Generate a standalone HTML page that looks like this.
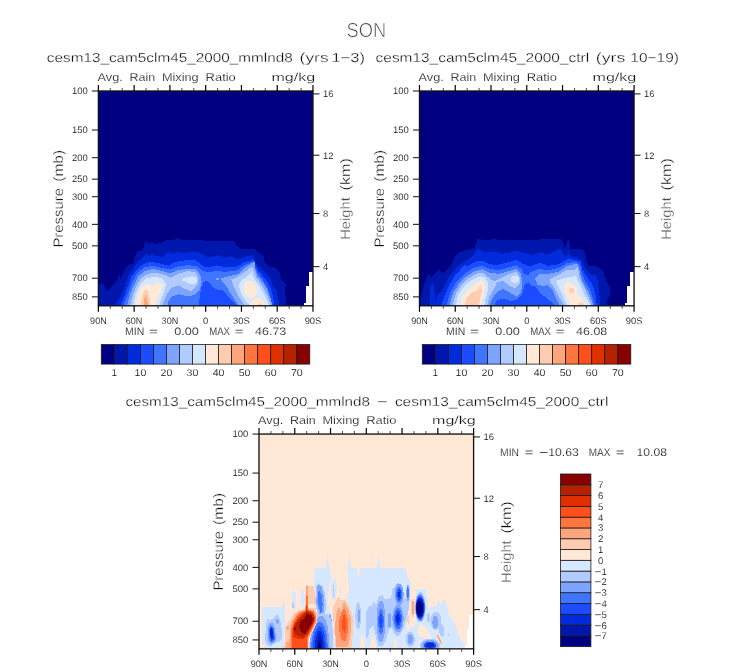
<!DOCTYPE html>
<html><head><meta charset="utf-8"><title>SON</title>
<style>html,body{margin:0;padding:0;background:#fff;}svg{display:block;will-change:transform;}text{font-family:"Liberation Sans",sans-serif;}</style></head>
<body>
<svg width="733" height="672" viewBox="0 0 733 672" font-family="'Liberation Sans', sans-serif" text-rendering="geometricPrecision">
<defs>
<clipPath id="clip98_91"><rect x="98.37" y="91.0" width="214.6" height="214.8"/></clipPath>
<clipPath id="clip419_91"><rect x="419.47" y="91.0" width="214.6" height="214.8"/></clipPath>
<clipPath id="clip259_434"><rect x="259.0" y="434.05" width="214.6" height="214.8"/></clipPath>
</defs>
<rect width="733" height="672" fill="#fff"/>
<text x="346.6" y="36.7" font-size="20.4" text-anchor="start" fill="#4a4a4a" stroke="#fff" stroke-width="0.55" textLength="39.6" lengthAdjust="spacingAndGlyphs">SON</text>
<text x="46.8" y="62.2" font-size="13.0" text-anchor="start" fill="#0a0a0a" stroke="#fff" stroke-width="0.27" textLength="246.0" lengthAdjust="spacingAndGlyphs">cesm13_cam5clm45_2000_mmlnd8</text>
<text x="299.6" y="62.2" font-size="13.0" text-anchor="start" fill="#0a0a0a" stroke="#fff" stroke-width="0.27" textLength="29.0" lengthAdjust="spacingAndGlyphs">(yrs</text>
<text x="331.4" y="62.2" font-size="13.0" text-anchor="start" fill="#0a0a0a" stroke="#fff" stroke-width="0.27" textLength="33.5" lengthAdjust="spacingAndGlyphs">1−3)</text>
<text x="375.6" y="62.2" font-size="13.0" text-anchor="start" fill="#0a0a0a" stroke="#fff" stroke-width="0.27" textLength="213.5" lengthAdjust="spacingAndGlyphs">cesm13_cam5clm45_2000_ctrl</text>
<text x="595.8" y="62.2" font-size="13.0" text-anchor="start" fill="#0a0a0a" stroke="#fff" stroke-width="0.27" textLength="29.5" lengthAdjust="spacingAndGlyphs">(yrs</text>
<text x="630.3" y="62.2" font-size="13.0" text-anchor="start" fill="#0a0a0a" stroke="#fff" stroke-width="0.27" textLength="48.6" lengthAdjust="spacingAndGlyphs">10−19)</text>
<text x="125.4" y="405.6" font-size="13.0" text-anchor="start" fill="#0a0a0a" stroke="#fff" stroke-width="0.27" textLength="244.6" lengthAdjust="spacingAndGlyphs">cesm13_cam5clm45_2000_mmlnd8</text>
<text x="376.9" y="405.6" font-size="13.0" text-anchor="start" fill="#0a0a0a" stroke="#fff" stroke-width="0.27" textLength="10.8" lengthAdjust="spacingAndGlyphs">−</text>
<text x="394.9" y="405.6" font-size="13.0" text-anchor="start" fill="#0a0a0a" stroke="#fff" stroke-width="0.27" textLength="213.5" lengthAdjust="spacingAndGlyphs">cesm13_cam5clm45_2000_ctrl</text>
<g clip-path="url(#clip98_91)" shape-rendering="crispEdges">
<rect x="98.37" y="91.0" width="214.6" height="214.8" fill="#000080"/>
<path d="M98.0,307.0 L98.0,284.5 L100.5,283.5 L103.0,283.0 L105.0,287.0 L107.0,291.0 L110.0,288.0 L113.0,285.3 L117.5,280.0 L119.0,274.0 L120.5,277.8 L124.3,271.0 L128.0,265.0 L133.3,263.5 L135.5,256.0 L137.8,251.5 L143.0,250.0 L145.3,241.0 L148.3,244.0 L152.0,242.2 L155.0,244.0 L162.5,242.5 L167.0,239.8 L173.0,240.3 L177.6,238.3 L183.6,240.3 L195.6,239.5 L208.0,241.0 L218.0,240.5 L233.0,240.5 L236.8,245.5 L240.5,249.3 L248.0,248.5 L254.8,249.3 L260.0,253.8 L263.8,256.0 L264.5,262.0 L268.3,266.2 L275.0,267.3 L279.6,272.5 L281.0,280.0 L285.6,284.5 L285.3,293.6 L286.3,305.0 L286.3,307.0 Z" fill="#0017AE"/>
<path d="M115.3,307.0 L115.3,305.0 L120.5,296.6 L125.0,286.0 L128.0,277.0 L134.0,266.5 L137.8,262.0 L143.0,257.5 L146.0,253.8 L149.8,256.0 L152.0,253.8 L155.0,256.0 L162.5,256.8 L167.8,251.8 L173.0,253.8 L177.6,251.5 L182.0,253.0 L195.6,251.5 L203.0,254.5 L206.0,256.5 L210.5,257.5 L218.0,255.3 L225.5,257.5 L230.0,256.0 L237.5,259.0 L245.0,256.8 L252.5,255.3 L254.8,258.3 L256.3,263.5 L260.8,268.0 L266.0,274.0 L270.5,278.5 L272.8,286.0 L276.5,290.5 L278.0,298.0 L279.6,305.0 L279.6,307.0 Z" fill="#002BDC"/>
<path d="M120.5,307.0 L120.5,305.0 L124.3,296.6 L128.0,286.0 L131.8,275.5 L137.0,269.5 L143.0,264.3 L149.0,262.0 L158.0,262.8 L168.6,265.8 L174.6,262.0 L183.6,260.5 L195.6,260.2 L203.0,265.8 L206.0,267.3 L209.0,267.3 L216.5,265.3 L225.5,267.3 L237.5,266.5 L245.0,262.0 L253.3,259.8 L255.5,265.0 L258.5,271.0 L264.5,277.8 L269.0,284.5 L272.0,292.0 L273.5,299.6 L274.3,305.0 L274.3,307.0 Z" fill="#1C4CFF"/>
<path d="M123.5,307.0 L123.5,305.0 L128.0,293.6 L132.5,281.5 L137.0,273.3 L144.5,267.3 L153.5,265.8 L162.5,268.0 L170.0,269.5 L177.6,266.5 L188.0,265.0 L197.0,266.5 L203.0,271.0 L209.0,272.5 L215.0,271.0 L225.5,271.8 L237.5,270.3 L245.0,265.0 L252.5,262.0 L254.8,266.5 L257.8,273.3 L263.0,280.0 L267.5,287.5 L269.8,295.0 L271.3,305.0 L271.3,307.0 Z" fill="#3F75FF"/>
<path d="M199.1,307.0 L199.1,305.0 L199.6,297.5 L201.3,287.7 L203.5,282.2 L206.7,280.9 L210.0,283.3 L213.3,287.7 L217.7,289.8 L222.0,289.8 L226.4,294.2 L230.8,299.7 L235.1,304.0 L236.8,305.0 L236.8,307.0 Z" fill="#1C4CFF"/>
<path d="M127.3,307.0 L127.3,305.0 L130.3,293.6 L134.0,284.5 L138.5,276.3 L144.5,271.0 L153.5,268.8 L162.5,271.0 L170.0,273.3 L177.6,270.3 L188.0,268.5 L195.6,269.5 L200.0,274.0 L201.6,281.5 L200.0,289.0 L194.0,295.0 L188.0,296.6 L179.0,294.3 L171.6,296.6 L168.5,301.0 L167.8,305.0 L167.8,307.0 Z" fill="#7DA5FF"/>
<path d="M130.3,307.0 L130.3,305.0 L133.3,293.6 L137.0,284.5 L141.5,277.8 L147.5,274.0 L155.0,272.5 L164.0,274.8 L170.8,277.8 L177.6,274.0 L188.0,271.0 L195.6,272.5 L198.6,278.5 L197.0,286.0 L191.0,291.3 L183.6,288.3 L179.0,285.3 L171.6,287.5 L167.0,293.6 L164.0,301.0 L162.5,305.0 L162.5,307.0 Z" fill="#B1CBFF"/>
<path d="M133.3,307.0 L133.3,305.0 L135.5,293.6 L140.0,284.5 L146.0,278.5 L155.0,276.8 L162.5,278.5 L166.3,284.5 L164.0,292.0 L161.0,299.6 L159.5,305.0 L159.5,307.0 Z" fill="#D5E8FF"/>
<path d="M182.0,279.0 L186.0,277.5 L192.0,276.3 L196.0,277.5 L197.5,281.0 L195.0,284.0 L191.0,284.5 L186.0,282.0 L182.0,280.5 Z" fill="#D5E8FF"/>
<path d="M135.5,307.0 L135.5,305.0 L137.8,295.0 L141.5,287.5 L147.5,283.8 L152.0,286.0 L155.0,283.8 L161.0,282.8 L162.8,286.0 L161.0,292.0 L157.3,298.0 L155.8,305.0 L155.8,307.0 Z" fill="#FFE8D5"/>
<path d="M140.8,307.0 L140.8,305.0 L142.3,296.6 L144.5,290.5 L146.8,289.8 L149.0,295.0 L150.5,305.0 L150.5,307.0 Z" fill="#FFCBB1"/>
<path d="M143.5,307.0 L143.5,305.0 L144.5,298.0 L145.7,295.0 L147.0,298.0 L147.8,305.0 L147.8,307.0 Z" fill="#FFA57D"/>
<path d="M238.4,307.0 L238.4,305.0 L236.2,301.9 L231.8,295.3 L226.4,286.6 L220.9,279.5 L220.9,278.4 L230.8,275.7 L239.5,273.5 L246.0,266.9 L252.6,262.6 L254.8,261.5 L255.3,269.1 L257.5,275.7 L263.5,283.3 L267.9,290.9 L270.6,298.6 L272.2,305.0 L272.2,307.0 Z" fill="#7DA5FF"/>
<ellipse cx="217.7" cy="279.1" rx="2.0" ry="1.0" fill="#7DA5FF"/>
<path d="M243.9,307.0 L243.9,305.0 L242.8,302.9 L239.5,297.5 L236.2,290.9 L232.9,284.4 L231.3,279.5 L236.2,277.3 L241.7,274.0 L247.1,270.2 L252.0,266.4 L253.7,269.1 L255.9,276.7 L261.3,284.4 L265.7,292.0 L269.0,299.7 L270.6,305.0 L270.6,307.0 Z" fill="#B1CBFF"/>
<path d="M249.3,307.0 L249.3,305.0 L247.1,302.9 L243.9,298.6 L240.6,292.0 L238.9,285.5 L241.7,280.0 L247.7,276.2 L251.5,272.4 L253.7,277.8 L259.1,285.5 L263.5,293.1 L266.8,299.7 L269.0,305.0 L269.0,307.0 Z" fill="#D5E8FF"/>
<ellipse cx="250.3" cy="289.5" rx="6.6" ry="8.7" fill="#FFE8D5" transform="rotate(-18 250.3 289.5)"/>
<ellipse cx="257.7" cy="303.4" rx="6.5" ry="5.2" fill="#FFE8D5"/>
<ellipse cx="259.8" cy="305.2" rx="2.0" ry="1.8" fill="#FFCBB1"/>
<path d="M308.6,272.0 H313.97 V306.8 H304.3 V303.0 H306.3 V285.8 H308.6 Z" fill="#fff"/>
</g>
<rect x="98.37" y="91.0" width="214.6" height="214.8" fill="none" stroke="#141414" stroke-width="1.35"/>
<line x1="98.37" y1="91.00" x2="98.37" y2="85.00" stroke="#000" stroke-width="1.2"/>
<line x1="98.37" y1="305.80" x2="98.37" y2="311.80" stroke="#000" stroke-width="1.2"/>
<line x1="110.29" y1="91.00" x2="110.29" y2="88.00" stroke="#333" stroke-width="0.9"/>
<line x1="110.29" y1="305.80" x2="110.29" y2="308.80" stroke="#333" stroke-width="0.9"/>
<line x1="122.21" y1="91.00" x2="122.21" y2="88.00" stroke="#333" stroke-width="0.9"/>
<line x1="122.21" y1="305.80" x2="122.21" y2="308.80" stroke="#333" stroke-width="0.9"/>
<line x1="134.14" y1="91.00" x2="134.14" y2="85.00" stroke="#000" stroke-width="1.2"/>
<line x1="134.14" y1="305.80" x2="134.14" y2="311.80" stroke="#000" stroke-width="1.2"/>
<line x1="146.06" y1="91.00" x2="146.06" y2="88.00" stroke="#333" stroke-width="0.9"/>
<line x1="146.06" y1="305.80" x2="146.06" y2="308.80" stroke="#333" stroke-width="0.9"/>
<line x1="157.98" y1="91.00" x2="157.98" y2="88.00" stroke="#333" stroke-width="0.9"/>
<line x1="157.98" y1="305.80" x2="157.98" y2="308.80" stroke="#333" stroke-width="0.9"/>
<line x1="169.90" y1="91.00" x2="169.90" y2="85.00" stroke="#000" stroke-width="1.2"/>
<line x1="169.90" y1="305.80" x2="169.90" y2="311.80" stroke="#000" stroke-width="1.2"/>
<line x1="181.83" y1="91.00" x2="181.83" y2="88.00" stroke="#333" stroke-width="0.9"/>
<line x1="181.83" y1="305.80" x2="181.83" y2="308.80" stroke="#333" stroke-width="0.9"/>
<line x1="193.75" y1="91.00" x2="193.75" y2="88.00" stroke="#333" stroke-width="0.9"/>
<line x1="193.75" y1="305.80" x2="193.75" y2="308.80" stroke="#333" stroke-width="0.9"/>
<line x1="205.67" y1="91.00" x2="205.67" y2="85.00" stroke="#000" stroke-width="1.2"/>
<line x1="205.67" y1="305.80" x2="205.67" y2="311.80" stroke="#000" stroke-width="1.2"/>
<line x1="217.59" y1="91.00" x2="217.59" y2="88.00" stroke="#333" stroke-width="0.9"/>
<line x1="217.59" y1="305.80" x2="217.59" y2="308.80" stroke="#333" stroke-width="0.9"/>
<line x1="229.51" y1="91.00" x2="229.51" y2="88.00" stroke="#333" stroke-width="0.9"/>
<line x1="229.51" y1="305.80" x2="229.51" y2="308.80" stroke="#333" stroke-width="0.9"/>
<line x1="241.44" y1="91.00" x2="241.44" y2="85.00" stroke="#000" stroke-width="1.2"/>
<line x1="241.44" y1="305.80" x2="241.44" y2="311.80" stroke="#000" stroke-width="1.2"/>
<line x1="253.36" y1="91.00" x2="253.36" y2="88.00" stroke="#333" stroke-width="0.9"/>
<line x1="253.36" y1="305.80" x2="253.36" y2="308.80" stroke="#333" stroke-width="0.9"/>
<line x1="265.28" y1="91.00" x2="265.28" y2="88.00" stroke="#333" stroke-width="0.9"/>
<line x1="265.28" y1="305.80" x2="265.28" y2="308.80" stroke="#333" stroke-width="0.9"/>
<line x1="277.20" y1="91.00" x2="277.20" y2="85.00" stroke="#000" stroke-width="1.2"/>
<line x1="277.20" y1="305.80" x2="277.20" y2="311.80" stroke="#000" stroke-width="1.2"/>
<line x1="289.13" y1="91.00" x2="289.13" y2="88.00" stroke="#333" stroke-width="0.9"/>
<line x1="289.13" y1="305.80" x2="289.13" y2="308.80" stroke="#333" stroke-width="0.9"/>
<line x1="301.05" y1="91.00" x2="301.05" y2="88.00" stroke="#333" stroke-width="0.9"/>
<line x1="301.05" y1="305.80" x2="301.05" y2="308.80" stroke="#333" stroke-width="0.9"/>
<line x1="312.97" y1="91.00" x2="312.97" y2="85.00" stroke="#000" stroke-width="1.2"/>
<line x1="312.97" y1="305.80" x2="312.97" y2="311.80" stroke="#000" stroke-width="1.2"/>
<line x1="98.37" y1="91.00" x2="91.87" y2="91.00" stroke="#1a1a1a" stroke-width="1.05"/>
<text x="87.8" y="94.2" font-size="9.4" text-anchor="end" fill="#0a0a0a" stroke="#fff" stroke-width="0.11" textLength="15.8" lengthAdjust="spacingAndGlyphs">100</text>
<line x1="98.37" y1="130.01" x2="91.87" y2="130.01" stroke="#1a1a1a" stroke-width="1.05"/>
<text x="87.8" y="133.2" font-size="9.4" text-anchor="end" fill="#0a0a0a" stroke="#fff" stroke-width="0.11" textLength="15.8" lengthAdjust="spacingAndGlyphs">150</text>
<line x1="98.37" y1="157.68" x2="91.87" y2="157.68" stroke="#1a1a1a" stroke-width="1.05"/>
<text x="87.8" y="160.9" font-size="9.4" text-anchor="end" fill="#0a0a0a" stroke="#fff" stroke-width="0.11" textLength="15.8" lengthAdjust="spacingAndGlyphs">200</text>
<line x1="98.37" y1="179.15" x2="91.87" y2="179.15" stroke="#1a1a1a" stroke-width="1.05"/>
<text x="87.8" y="182.3" font-size="9.4" text-anchor="end" fill="#0a0a0a" stroke="#fff" stroke-width="0.11" textLength="15.8" lengthAdjust="spacingAndGlyphs">250</text>
<line x1="98.37" y1="196.69" x2="91.87" y2="196.69" stroke="#1a1a1a" stroke-width="1.05"/>
<text x="87.8" y="199.9" font-size="9.4" text-anchor="end" fill="#0a0a0a" stroke="#fff" stroke-width="0.11" textLength="15.8" lengthAdjust="spacingAndGlyphs">300</text>
<line x1="98.37" y1="224.36" x2="91.87" y2="224.36" stroke="#1a1a1a" stroke-width="1.05"/>
<text x="87.8" y="227.6" font-size="9.4" text-anchor="end" fill="#0a0a0a" stroke="#fff" stroke-width="0.11" textLength="15.8" lengthAdjust="spacingAndGlyphs">400</text>
<line x1="98.37" y1="245.83" x2="91.87" y2="245.83" stroke="#1a1a1a" stroke-width="1.05"/>
<text x="87.8" y="249.0" font-size="9.4" text-anchor="end" fill="#0a0a0a" stroke="#fff" stroke-width="0.11" textLength="15.8" lengthAdjust="spacingAndGlyphs">500</text>
<line x1="98.37" y1="278.20" x2="91.87" y2="278.20" stroke="#1a1a1a" stroke-width="1.05"/>
<text x="87.8" y="281.4" font-size="9.4" text-anchor="end" fill="#0a0a0a" stroke="#fff" stroke-width="0.11" textLength="15.8" lengthAdjust="spacingAndGlyphs">700</text>
<line x1="98.37" y1="296.87" x2="91.87" y2="296.87" stroke="#1a1a1a" stroke-width="1.05"/>
<text x="87.8" y="300.1" font-size="9.4" text-anchor="end" fill="#0a0a0a" stroke="#fff" stroke-width="0.11" textLength="15.8" lengthAdjust="spacingAndGlyphs">850</text>
<line x1="312.97" y1="93.90" x2="319.47" y2="93.90" stroke="#1a1a1a" stroke-width="1.05"/>
<text x="323.0" y="97.2" font-size="9.4" text-anchor="start" fill="#0a0a0a" stroke="#fff" stroke-width="0.11">16</text>
<line x1="312.97" y1="155.20" x2="319.47" y2="155.20" stroke="#1a1a1a" stroke-width="1.05"/>
<text x="323.0" y="158.5" font-size="9.4" text-anchor="start" fill="#0a0a0a" stroke="#fff" stroke-width="0.11">12</text>
<line x1="312.97" y1="213.50" x2="319.47" y2="213.50" stroke="#1a1a1a" stroke-width="1.05"/>
<text x="323.0" y="216.8" font-size="9.4" text-anchor="start" fill="#0a0a0a" stroke="#fff" stroke-width="0.11">8</text>
<line x1="312.97" y1="266.60" x2="319.47" y2="266.60" stroke="#1a1a1a" stroke-width="1.05"/>
<text x="323.0" y="269.9" font-size="9.4" text-anchor="start" fill="#0a0a0a" stroke="#fff" stroke-width="0.11">4</text>
<text x="98.4" y="323.8" font-size="9.4" text-anchor="middle" fill="#0a0a0a" stroke="#fff" stroke-width="0.11" textLength="16.6" lengthAdjust="spacingAndGlyphs">90N</text>
<text x="134.1" y="323.8" font-size="9.4" text-anchor="middle" fill="#0a0a0a" stroke="#fff" stroke-width="0.11" textLength="16.6" lengthAdjust="spacingAndGlyphs">60N</text>
<text x="169.9" y="323.8" font-size="9.4" text-anchor="middle" fill="#0a0a0a" stroke="#fff" stroke-width="0.11" textLength="16.6" lengthAdjust="spacingAndGlyphs">30N</text>
<text x="205.7" y="323.8" font-size="9.4" text-anchor="middle" fill="#0a0a0a" stroke="#fff" stroke-width="0.11">0</text>
<text x="241.4" y="323.8" font-size="9.4" text-anchor="middle" fill="#0a0a0a" stroke="#fff" stroke-width="0.11" textLength="16.6" lengthAdjust="spacingAndGlyphs">30S</text>
<text x="277.2" y="323.8" font-size="9.4" text-anchor="middle" fill="#0a0a0a" stroke="#fff" stroke-width="0.11" textLength="16.6" lengthAdjust="spacingAndGlyphs">60S</text>
<text x="313.0" y="323.8" font-size="9.4" text-anchor="middle" fill="#0a0a0a" stroke="#fff" stroke-width="0.11" textLength="16.6" lengthAdjust="spacingAndGlyphs">90S</text>
<text x="97.5" y="81.3" font-size="11.4" text-anchor="start" fill="#0a0a0a" stroke="#fff" stroke-width="0.20" textLength="25.3" lengthAdjust="spacingAndGlyphs">Avg.</text>
<text x="129.5" y="81.3" font-size="11.4" text-anchor="start" fill="#0a0a0a" stroke="#fff" stroke-width="0.20" textLength="25.7" lengthAdjust="spacingAndGlyphs">Rain</text>
<text x="161.9" y="81.3" font-size="11.4" text-anchor="start" fill="#0a0a0a" stroke="#fff" stroke-width="0.20" textLength="36.8" lengthAdjust="spacingAndGlyphs">Mixing</text>
<text x="205.6" y="81.3" font-size="11.4" text-anchor="start" fill="#0a0a0a" stroke="#fff" stroke-width="0.20" textLength="30.2" lengthAdjust="spacingAndGlyphs">Ratio</text>
<text x="271.4" y="81.3" font-size="11.4" text-anchor="start" fill="#0a0a0a" stroke="#fff" stroke-width="0.20" textLength="43.8" lengthAdjust="spacingAndGlyphs">mg/kg</text>
<text transform="translate(62.6,247.6) rotate(-90)" font-size="13.8" fill="#0a0a0a" stroke="#fff" stroke-width="0.31" textLength="59.6" lengthAdjust="spacingAndGlyphs">Pressure</text>
<text transform="translate(62.6,181.8) rotate(-90)" font-size="13.8" fill="#0a0a0a" stroke="#fff" stroke-width="0.31" textLength="32.0" lengthAdjust="spacingAndGlyphs">(mb)</text>
<text transform="translate(350.3,239.8) rotate(-90)" font-size="13.8" fill="#484848" stroke="#fff" stroke-width="0.31" textLength="42.6" lengthAdjust="spacingAndGlyphs">Height</text>
<text transform="translate(350.3,190.4) rotate(-90)" font-size="13.8" fill="#0a0a0a" stroke="#fff" stroke-width="0.31" textLength="32.2" lengthAdjust="spacingAndGlyphs">(km)</text>
<g clip-path="url(#clip419_91)" shape-rendering="crispEdges">
<rect x="419.47" y="91.0" width="214.6" height="214.8" fill="#000080"/>
<path d="M419.0,307.0 L419.0,298.0 L420.5,298.0 L423.5,286.0 L428.0,274.0 L431.0,277.0 L438.5,269.5 L443.0,273.3 L451.3,265.0 L454.3,257.5 L458.0,253.0 L465.5,250.0 L474.5,248.5 L477.5,238.8 L485.0,240.3 L494.0,239.2 L503.0,240.3 L516.5,239.5 L529.0,239.8 L539.0,239.5 L560.0,238.8 L563.0,242.5 L564.5,248.5 L568.3,239.5 L570.5,248.5 L581.0,248.5 L584.8,251.5 L586.3,260.5 L588.5,265.8 L597.5,266.5 L603.5,272.5 L606.5,281.5 L610.3,289.0 L609.5,296.5 L606.5,301.0 L607.3,304.8 L607.3,307.0 Z" fill="#0017AE"/>
<path d="M430.3,307.0 L430.3,304.8 L429.8,292.0 L430.7,285.3 L432.2,283.8 L434.0,286.0 L434.8,293.5 L435.8,304.8 L435.8,307.0 Z" fill="#002BDC"/>
<path d="M435.5,307.0 L435.5,304.8 L437.0,295.0 L443.0,289.0 L449.0,277.0 L456.5,267.3 L464.0,262.0 L473.0,256.0 L477.5,248.5 L485.0,252.3 L494.0,251.5 L503.0,253.8 L516.5,250.8 L524.0,253.0 L529.0,253.8 L531.5,255.3 L540.5,252.3 L548.0,254.5 L555.5,250.8 L560.0,248.5 L563.8,255.3 L566.8,256.0 L568.3,250.0 L569.8,256.0 L576.5,257.5 L581.8,260.5 L584.8,268.8 L590.0,274.0 L596.0,275.5 L598.3,283.0 L599.0,292.0 L600.5,304.8 L600.5,307.0 Z" fill="#002BDC"/>
<path d="M441.5,307.0 L441.5,304.8 L444.5,296.5 L449.0,286.0 L455.0,275.5 L462.5,267.3 L464.8,264.3 L467.0,266.5 L476.0,261.3 L483.5,261.3 L489.5,264.3 L497.0,265.0 L509.0,262.0 L516.5,259.8 L522.5,263.5 L529.0,266.5 L531.5,265.8 L540.5,262.8 L548.0,265.8 L558.5,264.3 L567.5,259.0 L575.0,259.8 L580.3,261.3 L582.5,269.5 L587.0,277.0 L592.3,284.5 L595.3,293.5 L596.8,304.8 L596.8,307.0 Z" fill="#1C4CFF"/>
<path d="M446.8,307.0 L446.8,304.8 L449.8,293.5 L456.5,281.5 L464.0,274.0 L473.0,268.0 L482.0,265.8 L489.5,268.8 L498.5,270.3 L509.0,267.3 L516.5,265.3 L521.8,269.5 L524.0,274.0 L529.0,275.5 L530.0,272.5 L539.0,268.8 L548.0,270.3 L558.5,268.0 L567.5,262.8 L576.5,262.0 L580.3,265.8 L581.8,274.0 L585.5,281.5 L590.0,289.0 L593.0,298.0 L594.5,304.8 L594.5,307.0 Z" fill="#3F75FF"/>
<path d="M494.8,307.0 L494.8,304.8 L497.0,300.3 L503.0,298.5 L510.5,301.0 L516.5,299.5 L522.5,293.5 L524.8,283.8 L529.0,282.3 L530.0,285.3 L536.0,286.8 L540.5,293.5 L546.5,297.7 L552.5,303.3 L554.0,304.8 L554.0,307.0 Z" fill="#1C4CFF"/>
<path d="M449.8,307.0 L449.8,304.8 L452.8,293.5 L458.8,283.8 L465.5,277.0 L474.5,271.0 L482.0,269.2 L489.5,272.5 L498.5,274.0 L509.0,271.0 L516.5,268.8 L521.0,274.0 L522.5,283.0 L521.0,292.0 L516.5,296.5 L509.0,292.0 L503.0,289.0 L497.0,292.0 L492.5,298.0 L489.5,304.8 L489.5,307.0 Z" fill="#7DA5FF"/>
<path d="M452.8,307.0 L452.8,304.8 L455.8,293.5 L461.0,285.3 L468.5,278.5 L476.0,273.7 L482.8,272.8 L488.0,277.0 L494.0,281.5 L500.0,278.5 L509.0,274.0 L516.5,271.8 L519.8,277.0 L519.5,284.5 L515.0,288.3 L509.0,285.3 L503.0,280.8 L497.0,282.3 L494.0,289.0 L489.5,296.5 L487.3,304.8 L487.3,307.0 Z" fill="#B1CBFF"/>
<path d="M455.8,307.0 L455.8,304.8 L458.0,295.0 L464.0,286.0 L471.5,280.0 L479.0,276.3 L485.0,277.0 L488.3,283.0 L488.0,290.5 L485.8,298.0 L484.3,304.8 L484.3,307.0 Z" fill="#D5E8FF"/>
<ellipse cx="514.8" cy="279.3" rx="4.2" ry="3.6" fill="#D5E8FF"/>
<path d="M460.3,307.0 L460.3,304.8 L462.5,296.5 L468.5,289.0 L476.0,283.0 L481.3,280.0 L484.3,283.0 L485.0,289.0 L482.8,296.5 L481.3,304.8 L481.3,307.0 Z" fill="#FFE8D5"/>
<path d="M464.8,307.0 L464.8,304.8 L466.3,298.0 L471.5,292.8 L477.5,290.5 L480.5,286.0 L482.0,290.5 L480.5,296.5 L479.0,304.8 L479.0,307.0 Z" fill="#FFCBB1"/>
<path d="M559.3,307.0 L559.3,304.8 L555.5,296.5 L551.8,289.0 L548.0,285.3 L542.0,286.0 L537.5,284.5 L535.3,280.0 L535.3,278.5 L539.0,274.0 L548.0,274.0 L558.5,271.8 L567.5,265.8 L577.3,263.5 L579.5,269.5 L581.0,277.0 L584.0,284.5 L588.5,292.0 L591.5,299.5 L593.0,304.8 L593.0,307.0 Z" fill="#7DA5FF"/>
<path d="M563.8,307.0 L563.8,304.8 L561.5,301.0 L557.8,295.0 L554.0,287.5 L550.3,282.3 L549.5,279.3 L557.0,275.5 L567.5,269.5 L575.0,269.5 L577.3,266.5 L578.8,272.5 L579.8,278.5 L583.3,286.0 L587.0,293.5 L590.0,301.0 L591.5,304.8 L591.5,307.0 Z" fill="#B1CBFF"/>
<path d="M566.8,307.0 L566.8,304.8 L563.8,298.0 L560.0,290.5 L557.0,284.5 L556.3,280.8 L564.5,277.8 L572.0,277.0 L575.8,275.5 L578.0,281.5 L581.8,289.0 L585.5,296.5 L588.5,302.5 L590.0,304.8 L590.0,307.0 Z" fill="#D5E8FF"/>
<path d="M570.5,307.0 L570.5,304.8 L567.5,298.0 L564.5,292.0 L563.8,286.0 L567.5,282.3 L572.0,283.0 L575.8,287.5 L578.8,295.0 L582.5,299.5 L587.0,304.8 L587.0,307.0 Z" fill="#FFE8D5"/>
<ellipse cx="571.7" cy="290.9" rx="2.6" ry="2.6" fill="#FFCBB1"/>
<ellipse cx="581.0" cy="304.6" rx="3.0" ry="1.6" fill="#FFCBB1"/>
<path d="M629.7,272.0 H635.07 V306.8 H625.4000000000001 V303.0 H627.4000000000001 V285.8 H629.7 Z" fill="#fff"/>
</g>
<rect x="419.47" y="91.0" width="214.6" height="214.8" fill="none" stroke="#141414" stroke-width="1.35"/>
<line x1="419.47" y1="91.00" x2="419.47" y2="85.00" stroke="#000" stroke-width="1.2"/>
<line x1="419.47" y1="305.80" x2="419.47" y2="311.80" stroke="#000" stroke-width="1.2"/>
<line x1="431.39" y1="91.00" x2="431.39" y2="88.00" stroke="#333" stroke-width="0.9"/>
<line x1="431.39" y1="305.80" x2="431.39" y2="308.80" stroke="#333" stroke-width="0.9"/>
<line x1="443.31" y1="91.00" x2="443.31" y2="88.00" stroke="#333" stroke-width="0.9"/>
<line x1="443.31" y1="305.80" x2="443.31" y2="308.80" stroke="#333" stroke-width="0.9"/>
<line x1="455.24" y1="91.00" x2="455.24" y2="85.00" stroke="#000" stroke-width="1.2"/>
<line x1="455.24" y1="305.80" x2="455.24" y2="311.80" stroke="#000" stroke-width="1.2"/>
<line x1="467.16" y1="91.00" x2="467.16" y2="88.00" stroke="#333" stroke-width="0.9"/>
<line x1="467.16" y1="305.80" x2="467.16" y2="308.80" stroke="#333" stroke-width="0.9"/>
<line x1="479.08" y1="91.00" x2="479.08" y2="88.00" stroke="#333" stroke-width="0.9"/>
<line x1="479.08" y1="305.80" x2="479.08" y2="308.80" stroke="#333" stroke-width="0.9"/>
<line x1="491.00" y1="91.00" x2="491.00" y2="85.00" stroke="#000" stroke-width="1.2"/>
<line x1="491.00" y1="305.80" x2="491.00" y2="311.80" stroke="#000" stroke-width="1.2"/>
<line x1="502.93" y1="91.00" x2="502.93" y2="88.00" stroke="#333" stroke-width="0.9"/>
<line x1="502.93" y1="305.80" x2="502.93" y2="308.80" stroke="#333" stroke-width="0.9"/>
<line x1="514.85" y1="91.00" x2="514.85" y2="88.00" stroke="#333" stroke-width="0.9"/>
<line x1="514.85" y1="305.80" x2="514.85" y2="308.80" stroke="#333" stroke-width="0.9"/>
<line x1="526.77" y1="91.00" x2="526.77" y2="85.00" stroke="#000" stroke-width="1.2"/>
<line x1="526.77" y1="305.80" x2="526.77" y2="311.80" stroke="#000" stroke-width="1.2"/>
<line x1="538.69" y1="91.00" x2="538.69" y2="88.00" stroke="#333" stroke-width="0.9"/>
<line x1="538.69" y1="305.80" x2="538.69" y2="308.80" stroke="#333" stroke-width="0.9"/>
<line x1="550.61" y1="91.00" x2="550.61" y2="88.00" stroke="#333" stroke-width="0.9"/>
<line x1="550.61" y1="305.80" x2="550.61" y2="308.80" stroke="#333" stroke-width="0.9"/>
<line x1="562.54" y1="91.00" x2="562.54" y2="85.00" stroke="#000" stroke-width="1.2"/>
<line x1="562.54" y1="305.80" x2="562.54" y2="311.80" stroke="#000" stroke-width="1.2"/>
<line x1="574.46" y1="91.00" x2="574.46" y2="88.00" stroke="#333" stroke-width="0.9"/>
<line x1="574.46" y1="305.80" x2="574.46" y2="308.80" stroke="#333" stroke-width="0.9"/>
<line x1="586.38" y1="91.00" x2="586.38" y2="88.00" stroke="#333" stroke-width="0.9"/>
<line x1="586.38" y1="305.80" x2="586.38" y2="308.80" stroke="#333" stroke-width="0.9"/>
<line x1="598.30" y1="91.00" x2="598.30" y2="85.00" stroke="#000" stroke-width="1.2"/>
<line x1="598.30" y1="305.80" x2="598.30" y2="311.80" stroke="#000" stroke-width="1.2"/>
<line x1="610.23" y1="91.00" x2="610.23" y2="88.00" stroke="#333" stroke-width="0.9"/>
<line x1="610.23" y1="305.80" x2="610.23" y2="308.80" stroke="#333" stroke-width="0.9"/>
<line x1="622.15" y1="91.00" x2="622.15" y2="88.00" stroke="#333" stroke-width="0.9"/>
<line x1="622.15" y1="305.80" x2="622.15" y2="308.80" stroke="#333" stroke-width="0.9"/>
<line x1="634.07" y1="91.00" x2="634.07" y2="85.00" stroke="#000" stroke-width="1.2"/>
<line x1="634.07" y1="305.80" x2="634.07" y2="311.80" stroke="#000" stroke-width="1.2"/>
<line x1="419.47" y1="91.00" x2="412.97" y2="91.00" stroke="#1a1a1a" stroke-width="1.05"/>
<text x="408.9" y="94.2" font-size="9.4" text-anchor="end" fill="#0a0a0a" stroke="#fff" stroke-width="0.11" textLength="15.8" lengthAdjust="spacingAndGlyphs">100</text>
<line x1="419.47" y1="130.01" x2="412.97" y2="130.01" stroke="#1a1a1a" stroke-width="1.05"/>
<text x="408.9" y="133.2" font-size="9.4" text-anchor="end" fill="#0a0a0a" stroke="#fff" stroke-width="0.11" textLength="15.8" lengthAdjust="spacingAndGlyphs">150</text>
<line x1="419.47" y1="157.68" x2="412.97" y2="157.68" stroke="#1a1a1a" stroke-width="1.05"/>
<text x="408.9" y="160.9" font-size="9.4" text-anchor="end" fill="#0a0a0a" stroke="#fff" stroke-width="0.11" textLength="15.8" lengthAdjust="spacingAndGlyphs">200</text>
<line x1="419.47" y1="179.15" x2="412.97" y2="179.15" stroke="#1a1a1a" stroke-width="1.05"/>
<text x="408.9" y="182.3" font-size="9.4" text-anchor="end" fill="#0a0a0a" stroke="#fff" stroke-width="0.11" textLength="15.8" lengthAdjust="spacingAndGlyphs">250</text>
<line x1="419.47" y1="196.69" x2="412.97" y2="196.69" stroke="#1a1a1a" stroke-width="1.05"/>
<text x="408.9" y="199.9" font-size="9.4" text-anchor="end" fill="#0a0a0a" stroke="#fff" stroke-width="0.11" textLength="15.8" lengthAdjust="spacingAndGlyphs">300</text>
<line x1="419.47" y1="224.36" x2="412.97" y2="224.36" stroke="#1a1a1a" stroke-width="1.05"/>
<text x="408.9" y="227.6" font-size="9.4" text-anchor="end" fill="#0a0a0a" stroke="#fff" stroke-width="0.11" textLength="15.8" lengthAdjust="spacingAndGlyphs">400</text>
<line x1="419.47" y1="245.83" x2="412.97" y2="245.83" stroke="#1a1a1a" stroke-width="1.05"/>
<text x="408.9" y="249.0" font-size="9.4" text-anchor="end" fill="#0a0a0a" stroke="#fff" stroke-width="0.11" textLength="15.8" lengthAdjust="spacingAndGlyphs">500</text>
<line x1="419.47" y1="278.20" x2="412.97" y2="278.20" stroke="#1a1a1a" stroke-width="1.05"/>
<text x="408.9" y="281.4" font-size="9.4" text-anchor="end" fill="#0a0a0a" stroke="#fff" stroke-width="0.11" textLength="15.8" lengthAdjust="spacingAndGlyphs">700</text>
<line x1="419.47" y1="296.87" x2="412.97" y2="296.87" stroke="#1a1a1a" stroke-width="1.05"/>
<text x="408.9" y="300.1" font-size="9.4" text-anchor="end" fill="#0a0a0a" stroke="#fff" stroke-width="0.11" textLength="15.8" lengthAdjust="spacingAndGlyphs">850</text>
<line x1="634.07" y1="93.90" x2="640.57" y2="93.90" stroke="#1a1a1a" stroke-width="1.05"/>
<text x="644.1" y="97.2" font-size="9.4" text-anchor="start" fill="#0a0a0a" stroke="#fff" stroke-width="0.11">16</text>
<line x1="634.07" y1="155.20" x2="640.57" y2="155.20" stroke="#1a1a1a" stroke-width="1.05"/>
<text x="644.1" y="158.5" font-size="9.4" text-anchor="start" fill="#0a0a0a" stroke="#fff" stroke-width="0.11">12</text>
<line x1="634.07" y1="213.50" x2="640.57" y2="213.50" stroke="#1a1a1a" stroke-width="1.05"/>
<text x="644.1" y="216.8" font-size="9.4" text-anchor="start" fill="#0a0a0a" stroke="#fff" stroke-width="0.11">8</text>
<line x1="634.07" y1="266.60" x2="640.57" y2="266.60" stroke="#1a1a1a" stroke-width="1.05"/>
<text x="644.1" y="269.9" font-size="9.4" text-anchor="start" fill="#0a0a0a" stroke="#fff" stroke-width="0.11">4</text>
<text x="419.5" y="323.8" font-size="9.4" text-anchor="middle" fill="#0a0a0a" stroke="#fff" stroke-width="0.11" textLength="16.6" lengthAdjust="spacingAndGlyphs">90N</text>
<text x="455.2" y="323.8" font-size="9.4" text-anchor="middle" fill="#0a0a0a" stroke="#fff" stroke-width="0.11" textLength="16.6" lengthAdjust="spacingAndGlyphs">60N</text>
<text x="491.0" y="323.8" font-size="9.4" text-anchor="middle" fill="#0a0a0a" stroke="#fff" stroke-width="0.11" textLength="16.6" lengthAdjust="spacingAndGlyphs">30N</text>
<text x="526.8" y="323.8" font-size="9.4" text-anchor="middle" fill="#0a0a0a" stroke="#fff" stroke-width="0.11">0</text>
<text x="562.5" y="323.8" font-size="9.4" text-anchor="middle" fill="#0a0a0a" stroke="#fff" stroke-width="0.11" textLength="16.6" lengthAdjust="spacingAndGlyphs">30S</text>
<text x="598.3" y="323.8" font-size="9.4" text-anchor="middle" fill="#0a0a0a" stroke="#fff" stroke-width="0.11" textLength="16.6" lengthAdjust="spacingAndGlyphs">60S</text>
<text x="634.1" y="323.8" font-size="9.4" text-anchor="middle" fill="#0a0a0a" stroke="#fff" stroke-width="0.11" textLength="16.6" lengthAdjust="spacingAndGlyphs">90S</text>
<text x="418.6" y="81.3" font-size="11.4" text-anchor="start" fill="#0a0a0a" stroke="#fff" stroke-width="0.20" textLength="25.3" lengthAdjust="spacingAndGlyphs">Avg.</text>
<text x="450.6" y="81.3" font-size="11.4" text-anchor="start" fill="#0a0a0a" stroke="#fff" stroke-width="0.20" textLength="25.7" lengthAdjust="spacingAndGlyphs">Rain</text>
<text x="483.0" y="81.3" font-size="11.4" text-anchor="start" fill="#0a0a0a" stroke="#fff" stroke-width="0.20" textLength="36.8" lengthAdjust="spacingAndGlyphs">Mixing</text>
<text x="526.7" y="81.3" font-size="11.4" text-anchor="start" fill="#0a0a0a" stroke="#fff" stroke-width="0.20" textLength="30.2" lengthAdjust="spacingAndGlyphs">Ratio</text>
<text x="592.5" y="81.3" font-size="11.4" text-anchor="start" fill="#0a0a0a" stroke="#fff" stroke-width="0.20" textLength="43.8" lengthAdjust="spacingAndGlyphs">mg/kg</text>
<text transform="translate(383.7,247.6) rotate(-90)" font-size="13.8" fill="#0a0a0a" stroke="#fff" stroke-width="0.31" textLength="59.6" lengthAdjust="spacingAndGlyphs">Pressure</text>
<text transform="translate(383.7,181.8) rotate(-90)" font-size="13.8" fill="#0a0a0a" stroke="#fff" stroke-width="0.31" textLength="32.0" lengthAdjust="spacingAndGlyphs">(mb)</text>
<text transform="translate(671.4,239.8) rotate(-90)" font-size="13.8" fill="#484848" stroke="#fff" stroke-width="0.31" textLength="42.6" lengthAdjust="spacingAndGlyphs">Height</text>
<text transform="translate(671.4,190.4) rotate(-90)" font-size="13.8" fill="#0a0a0a" stroke="#fff" stroke-width="0.31" textLength="32.2" lengthAdjust="spacingAndGlyphs">(km)</text>
<g clip-path="url(#clip259_434)" shape-rendering="crispEdges">
<rect x="259.0" y="434.05" width="214.6" height="214.8" fill="#FFE8D5"/>
<path d="M265.2,650.9 L263.7,645.7 L261.9,641.5 L261.9,607.6 L263.2,606.9 L282.1,606.9 L283.5,599.3 L285.0,608.2 L285.7,624.8 L284.6,631.1 L284.0,641.5 L282.4,650.9 Z" fill="#D5E8FF"/>
<ellipse cx="293.9" cy="600.4" rx="2.3" ry="10.4" fill="#D5E8FF"/>
<ellipse cx="302.5" cy="598.8" rx="2.1" ry="9.9" fill="#D5E8FF"/>
<path d="M311.2,651.7 L312.0,632.3 L315.0,623.4 L316.4,614.5 L314.2,583.2 L314.2,568.3 L315.0,567.6 L325.4,567.6 L327.6,555.0 L329.1,567.6 L329.8,568.3 L331.0,578.8 L329.1,587.7 L327.6,599.6 L329.1,608.5 L332.8,614.5 L333.6,629.4 L335.0,641.3 L335.5,651.7 Z" fill="#D5E8FF"/>
<path d="M331.3,598.1 L331.0,582.5 L333.6,578.8 L335.8,576.5 L336.7,586.2 L336.4,598.1 L334.0,600.3 Z" fill="#D5E8FF"/>
<ellipse cx="340.5" cy="590.4" rx="0.7" ry="3.6" fill="#D5E8FF"/>
<path d="M351.4,651.7 L352.9,632.3 L353.6,620.4 L351.4,611.5 L348.0,604.1 L346.2,598.1 L348.0,593.6 L349.2,590.7 L348.0,578.8 L347.4,567.6 L349.2,555.7 L351.4,567.6 L356.6,567.6 L358.1,579.5 L360.3,567.6 L378.9,567.6 L376.9,567.6 L378.6,555.7 L380.6,567.6 L405.9,567.6 L408.1,578.8 L410.3,581.0 L411.4,588.0 L416.3,589.2 L425.2,589.2 L426.3,589.9 L427.5,598.1 L427.8,607.8 L436.0,606.3 L438.2,598.9 L440.5,605.5 L444.2,598.9 L447.2,605.5 L448.6,614.5 L454.6,621.9 L456.8,629.4 L460.5,638.3 L465.0,645.7 L467.2,651.7 Z" fill="#D5E8FF"/>
<path d="M411.4,588.0 L416.3,589.5 L415.5,598.1 L415.2,611.5 L416.3,623.4 L412.6,627.1 L408.9,626.4 L407.4,618.9 L408.9,608.5 L409.9,598.1 L409.6,588.0 Z" fill="#FFE8D5"/>
<path d="M418.1,626.4 L420.4,623.4 L424.8,626.4 L428.6,632.3 L431.1,638.3 L427.8,640.1 L422.6,637.1 L418.9,637.1 L417.8,632.3 Z" fill="#FFE8D5"/>
<path d="M406.7,630.1 L407.3,620.4 L410.0,620.1 L410.8,626.4 L409.1,630.5 Z" fill="#FFE8D5"/>
<path d="M359.7,651.7 L360.8,638.3 L362.3,633.1 L364.1,639.8 L365.2,651.7 Z" fill="#FFE8D5"/>
<path d="M369.7,651.7 L370.9,639.8 L372.1,636.1 L373.6,641.3 L374.5,651.7 Z" fill="#FFE8D5"/>
<path d="M392.9,651.7 L394.1,641.3 L395.3,638.0 L396.8,642.8 L397.7,651.7 Z" fill="#FFE8D5"/>
<path d="M402.2,651.7 L403.6,643.5 L405.4,651.7 Z" fill="#FFE8D5"/>
<path d="M361.1,651.7 L361.8,639.8 L362.9,636.8 L364.4,641.3 L365.2,651.7 Z" fill="#FFE8D5"/>
<path d="M371.2,651.7 L372.1,639.8 L373.6,636.1 L375.4,641.3 L376.0,651.7 Z" fill="#FFE8D5"/>
<path d="M418.6,651.7 L419.2,644.2 L420.7,639.8 L422.2,644.2 L422.5,651.7 Z" fill="#FFE8D5"/>
<path d="M265.2,641.5 L265.8,625.9 L267.9,617.5 L269.4,620.7 L272.5,618.6 L277.2,613.9 L279.8,618.6 L281.4,626.9 L282.4,637.3 L279.8,641.5 L274.6,643.6 L270.5,646.9 L267.9,645.7 Z" fill="#B1CBFF"/>
<path d="M267.9,640.5 L267.9,628.0 L269.4,623.8 L272.5,622.8 L274.6,626.9 L275.7,634.2 L276.2,640.5 L273.6,643.1 L270.5,644.1 Z" fill="#7DA5FF"/>
<ellipse cx="277.3" cy="621.2" rx="1.5" ry="2.7" fill="#7DA5FF"/>
<path d="M268.9,638.4 L269.2,629.0 L271.0,625.4 L273.6,628.0 L274.6,635.2 L274.6,639.9 L272.0,642.5 Z" fill="#3F75FF"/>
<path d="M269.6,636.3 L269.9,629.0 L271.3,626.7 L273.1,629.0 L273.9,635.2 L273.6,639.4 L271.7,641.0 Z" fill="#1C4CFF"/>
<path d="M270.2,635.2 L270.5,629.5 L271.5,627.8 L272.5,630.0 L273.2,635.2 L272.5,638.9 L271.5,639.4 Z" fill="#002BDC"/>
<path d="M270.9,634.2 L271.1,631.1 L271.8,630.0 L272.3,632.1 L272.5,635.2 L271.9,637.3 Z" fill="#0017AE"/>
<ellipse cx="292.9" cy="605.6" rx="0.9" ry="2.7" fill="#B1CBFF"/>
<path d="M315.7,593.6 L316.4,585.5 L318.7,582.9 L322.4,586.2 L325.1,593.6 L326.1,605.5 L324.6,616.0 L322.4,623.4 L319.4,621.9 L317.9,614.5 L315.2,604.1 Z" fill="#B1CBFF"/>
<path d="M316.7,593.6 L317.3,586.2 L318.8,584.1 L321.5,587.4 L323.6,594.4 L324.5,604.8 L323.3,614.5 L321.5,618.9 L320.0,616.7 L318.8,611.5 L316.4,602.6 Z" fill="#7DA5FF"/>
<path d="M317.6,596.6 L318.2,592.2 L319.7,591.4 L321.5,595.1 L322.7,604.1 L322.1,611.5 L320.6,613.3 L319.4,608.5 L317.6,601.8 Z" fill="#3F75FF"/>
<ellipse cx="329.8" cy="620.4" rx="1.8" ry="6.2" fill="#7DA5FF"/>
<ellipse cx="333.6" cy="590.7" rx="0.7" ry="6.0" fill="#B1CBFF"/>
<path d="M309.0,651.7 L309.7,638.3 L311.2,629.4 L314.2,620.4 L317.2,614.5 L323.1,613.0 L327.6,614.5 L331.3,618.9 L332.5,629.4 L332.8,641.3 L333.6,651.7 Z" fill="#B1CBFF"/>
<path d="M309.7,651.7 L310.5,638.3 L312.3,629.4 L315.2,621.9 L318.2,616.7 L322.4,616.0 L325.7,620.4 L328.0,627.9 L329.1,638.3 L329.8,651.7 Z" fill="#7DA5FF"/>
<path d="M310.8,651.7 L311.7,639.8 L313.5,630.8 L316.1,624.9 L318.8,621.9 L322.1,622.7 L324.6,627.1 L326.6,633.8 L327.5,642.8 L328.0,651.7 Z" fill="#3F75FF"/>
<path d="M312.3,651.7 L313.2,641.3 L315.0,633.1 L317.2,627.9 L319.4,626.1 L321.8,627.1 L323.6,630.8 L325.1,636.8 L325.7,644.2 L326.0,651.7 Z" fill="#1C4CFF"/>
<path d="M314.2,651.7 L315.0,642.8 L316.4,636.1 L318.2,631.6 L320.0,630.5 L321.8,632.3 L323.1,636.8 L323.9,644.2 L324.2,651.7 Z" fill="#002BDC"/>
<path d="M316.1,651.7 L316.7,644.2 L317.9,638.3 L319.4,635.3 L320.9,636.8 L322.1,641.3 L322.7,651.7 Z" fill="#0017AE"/>
<path d="M317.6,651.7 L318.2,645.7 L319.4,640.5 L320.6,642.8 L321.2,651.7 Z" fill="#000080"/>
<ellipse cx="358.1" cy="616.0" rx="2.7" ry="13.7" fill="#B1CBFF"/>
<ellipse cx="358.1" cy="616.0" rx="1.2" ry="8.9" fill="#7DA5FF"/>
<ellipse cx="370.3" cy="616.7" rx="3.9" ry="11.6" fill="#B1CBFF"/>
<path d="M366.4,636.8 L366.4,611.5 L368.7,606.3 L370.9,608.5 L373.9,601.1 L376.1,605.5 L378.3,596.6 L382.8,595.1 L385.0,599.6 L391.0,598.1 L392.5,589.2 L397.7,582.5 L401.4,584.7 L403.6,598.1 L408.1,597.4 L406.9,586.2 L408.1,584.0 L409.6,587.7 L409.9,598.1 L408.9,608.5 L406.6,618.9 L403.6,627.9 L400.7,633.8 L396.9,636.8 L393.2,632.3 L391.0,626.4 L388.0,632.3 L385.8,641.3 L382.8,646.0 L378.3,646.0 L376.1,638.3 L373.9,626.4 L371.6,623.4 L369.4,629.4 L367.9,638.3 Z" fill="#B1CBFF"/>
<ellipse cx="359.0" cy="616.0" rx="2.1" ry="11.9" fill="#B1CBFF"/>
<ellipse cx="359.0" cy="616.0" rx="0.9" ry="7.4" fill="#7DA5FF"/>
<ellipse cx="381.0" cy="621.2" rx="4.5" ry="20.8" fill="#7DA5FF"/>
<ellipse cx="381.0" cy="621.2" rx="2.8" ry="12.6" fill="#3F75FF"/>
<ellipse cx="381.0" cy="621.2" rx="1.6" ry="7.7" fill="#1C4CFF"/>
<ellipse cx="389.5" cy="620.4" rx="1.8" ry="7.7" fill="#7DA5FF"/>
<ellipse cx="399.2" cy="594.4" rx="4.5" ry="11.0" fill="#7DA5FF"/>
<ellipse cx="399.2" cy="594.4" rx="3.0" ry="7.7" fill="#3F75FF"/>
<ellipse cx="399.2" cy="594.4" rx="1.9" ry="5.4" fill="#1C4CFF"/>
<ellipse cx="399.2" cy="594.4" rx="1.0" ry="3.1" fill="#002BDC"/>
<ellipse cx="398.0" cy="618.6" rx="5.7" ry="13.7" fill="#7DA5FF"/>
<ellipse cx="398.0" cy="618.6" rx="4.0" ry="10.7" fill="#3F75FF"/>
<ellipse cx="398.0" cy="618.6" rx="2.8" ry="7.7" fill="#1C4CFF"/>
<ellipse cx="398.0" cy="618.6" rx="1.6" ry="4.9" fill="#002BDC"/>
<ellipse cx="407.8" cy="592.9" rx="1.5" ry="8.3" fill="#7DA5FF"/>
<ellipse cx="407.8" cy="592.9" rx="0.9" ry="5.7" fill="#3F75FF"/>
<ellipse cx="420.3" cy="607.3" rx="5.4" ry="15.2" fill="#B1CBFF"/>
<ellipse cx="420.2" cy="607.6" rx="4.9" ry="13.7" fill="#7DA5FF"/>
<ellipse cx="420.2" cy="607.6" rx="4.6" ry="12.5" fill="#3F75FF"/>
<ellipse cx="420.0" cy="607.9" rx="4.3" ry="11.3" fill="#1C4CFF"/>
<ellipse cx="420.0" cy="607.9" rx="4.0" ry="10.1" fill="#002BDC"/>
<ellipse cx="419.7" cy="608.2" rx="3.7" ry="8.9" fill="#0017AE"/>
<ellipse cx="419.7" cy="608.2" rx="3.3" ry="7.4" fill="#000080"/>
<ellipse cx="412.9" cy="607.8" rx="2.2" ry="9.2" fill="#FFCBB1"/>
<ellipse cx="412.9" cy="607.8" rx="1.3" ry="6.8" fill="#FFA57D"/>
<ellipse cx="408.3" cy="619.8" rx="0.9" ry="4.5" fill="#FFCBB1"/>
<ellipse cx="410.3" cy="639.2" rx="4.5" ry="7.7" fill="#B1CBFF"/>
<ellipse cx="410.3" cy="639.2" rx="2.5" ry="4.8" fill="#7DA5FF"/>
<ellipse cx="428.6" cy="617.8" rx="1.5" ry="4.8" fill="#B1CBFF"/>
<ellipse cx="436.0" cy="620.7" rx="5.4" ry="9.2" fill="#B1CBFF"/>
<ellipse cx="435.2" cy="622.2" rx="2.8" ry="6.8" fill="#7DA5FF"/>
<ellipse cx="441.5" cy="630.1" rx="2.7" ry="6.8" fill="#B1CBFF" transform="rotate(-12 441.5 630.1)"/>
<ellipse cx="448.6" cy="635.0" rx="0.9" ry="1.2" fill="#B1CBFF"/>
<ellipse cx="430.0" cy="645.4" rx="10.1" ry="6.8" fill="#B1CBFF"/>
<ellipse cx="430.0" cy="645.4" rx="8.6" ry="5.4" fill="#7DA5FF"/>
<ellipse cx="430.0" cy="645.4" rx="6.5" ry="3.7" fill="#1C4CFF"/>
<ellipse cx="430.0" cy="645.4" rx="4.5" ry="2.2" fill="#002BDC"/>
<ellipse cx="439.3" cy="639.2" rx="1.3" ry="6.0" fill="#FFCBB1" transform="rotate(-25 439.3 639.2)"/>
<ellipse cx="439.3" cy="639.2" rx="0.7" ry="4.2" fill="#FFA57D" transform="rotate(-25 439.3 639.2)"/>
<path d="M282.4,651.9 L284.5,641.5 L284.5,631.1 L286.6,624.8 L290.2,619.6 L294.4,613.4 L298.6,610.2 L304.8,609.2 L305.9,585.2 L314.2,586.3 L315.8,608.2 L316.8,613.4 L317.3,620.7 L315.2,626.9 L312.1,633.2 L309.0,639.4 L308.5,651.9 Z" fill="#FFCBB1"/>
<path d="M308.0,607.6 L308.0,604.0 L315.2,604.0 L315.8,607.6 Z" fill="#FFE8D5"/>
<path d="M285.0,651.9 L286.3,642.5 L289.2,641.5 L290.2,633.2 L290.2,625.9 L292.3,620.7 L295.5,615.5 L299.6,611.3 L305.4,609.7 L306.1,586.3 L308.0,586.3 L308.5,609.2 L314.2,610.2 L316.5,615.5 L316.3,621.7 L314.2,626.9 L311.1,633.2 L308.5,638.4 L308.0,651.9 Z" fill="#FFA57D"/>
<ellipse cx="287.8" cy="628.0" rx="1.5" ry="2.3" fill="#FFA57D"/>
<path d="M290.2,651.9 L291.3,639.4 L291.5,628.0 L293.4,621.7 L296.5,616.5 L300.7,612.3 L305.6,610.2 L306.4,595.7 L307.5,595.7 L308.0,609.7 L313.7,611.3 L315.8,616.5 L315.5,621.7 L313.2,626.9 L310.6,632.1 L308.0,637.3 L307.4,651.9 Z" fill="#FF753F"/>
<path d="M291.8,651.9 L292.3,639.4 L292.3,629.0 L294.2,622.8 L297.3,617.5 L301.2,613.4 L305.9,610.8 L306.6,603.5 L307.3,603.5 L307.8,610.2 L313.2,612.1 L315.2,617.0 L314.8,621.7 L312.6,626.4 L310.0,631.6 L307.5,636.8 L306.9,651.9 Z" fill="#FF4F1B"/>
<path d="M293.4,637.3 L292.9,629.0 L294.9,623.3 L298.1,618.6 L301.7,614.4 L306.1,611.3 L306.7,605.0 L307.2,605.0 L307.5,610.8 L312.6,612.9 L314.7,617.5 L314.2,621.7 L312.1,625.9 L309.5,631.1 L306.9,635.8 L303.8,638.9 L298.6,638.9 Z" fill="#E22F00"/>
<path d="M293.9,631.1 L295.5,624.8 L298.8,619.8 L302.8,615.5 L306.4,612.1 L306.9,608.2 L307.3,611.8 L312.1,613.9 L314.0,618.1 L313.5,621.7 L311.4,625.6 L308.8,630.4 L306.1,634.7 L303.3,637.3 L299.1,635.8 L295.5,634.2 Z" fill="#B62200"/>
<path d="M299.1,625.9 L301.2,620.7 L304.8,617.5 L306.5,613.9 L306.9,610.2 L307.4,613.9 L311.6,615.5 L313.2,619.1 L312.3,622.2 L310.6,625.6 L308.0,629.8 L304.8,633.7 L302.2,633.2 L300.1,630.6 Z" fill="#880000"/>
<ellipse cx="294.9" cy="628.8" rx="1.4" ry="1.5" fill="#880000"/>
<path d="M335.8,651.7 L335.0,638.3 L333.6,623.4 L332.8,608.5 L335.8,601.1 L338.0,596.6 L341.0,600.3 L344.7,599.3 L348.0,604.1 L351.4,611.5 L353.6,620.4 L352.9,632.3 L351.4,651.7 Z" fill="#FFCBB1"/>
<path d="M336.1,647.2 L335.0,626.4 L336.5,613.0 L338.8,607.0 L341.0,611.5 L344.0,601.1 L348.0,608.5 L350.7,617.5 L351.4,626.4 L349.9,638.3 L348.0,647.2 Z" fill="#FFA57D"/>
<path d="M339.5,632.3 L338.8,620.4 L341.0,614.5 L344.0,607.8 L346.9,614.5 L348.4,623.4 L347.7,633.8 L345.5,641.3 L341.7,639.8 Z" fill="#FF753F"/>
<path d="M342.5,629.4 L342.0,620.4 L344.0,613.7 L345.9,620.4 L346.2,627.9 L344.7,633.1 Z" fill="#FF4F1B"/>
<path d="M469.23,615.05 H474.6 V649.85 H464.93 V646.05 H466.93 V628.85 H469.23 Z" fill="#fff"/>
</g>
<rect x="259.0" y="434.05" width="214.6" height="214.8" fill="none" stroke="#141414" stroke-width="1.35"/>
<line x1="259.00" y1="434.05" x2="259.00" y2="428.05" stroke="#000" stroke-width="1.2"/>
<line x1="259.00" y1="648.85" x2="259.00" y2="654.85" stroke="#000" stroke-width="1.2"/>
<line x1="270.92" y1="434.05" x2="270.92" y2="431.05" stroke="#333" stroke-width="0.9"/>
<line x1="270.92" y1="648.85" x2="270.92" y2="651.85" stroke="#333" stroke-width="0.9"/>
<line x1="282.84" y1="434.05" x2="282.84" y2="431.05" stroke="#333" stroke-width="0.9"/>
<line x1="282.84" y1="648.85" x2="282.84" y2="651.85" stroke="#333" stroke-width="0.9"/>
<line x1="294.77" y1="434.05" x2="294.77" y2="428.05" stroke="#000" stroke-width="1.2"/>
<line x1="294.77" y1="648.85" x2="294.77" y2="654.85" stroke="#000" stroke-width="1.2"/>
<line x1="306.69" y1="434.05" x2="306.69" y2="431.05" stroke="#333" stroke-width="0.9"/>
<line x1="306.69" y1="648.85" x2="306.69" y2="651.85" stroke="#333" stroke-width="0.9"/>
<line x1="318.61" y1="434.05" x2="318.61" y2="431.05" stroke="#333" stroke-width="0.9"/>
<line x1="318.61" y1="648.85" x2="318.61" y2="651.85" stroke="#333" stroke-width="0.9"/>
<line x1="330.53" y1="434.05" x2="330.53" y2="428.05" stroke="#000" stroke-width="1.2"/>
<line x1="330.53" y1="648.85" x2="330.53" y2="654.85" stroke="#000" stroke-width="1.2"/>
<line x1="342.46" y1="434.05" x2="342.46" y2="431.05" stroke="#333" stroke-width="0.9"/>
<line x1="342.46" y1="648.85" x2="342.46" y2="651.85" stroke="#333" stroke-width="0.9"/>
<line x1="354.38" y1="434.05" x2="354.38" y2="431.05" stroke="#333" stroke-width="0.9"/>
<line x1="354.38" y1="648.85" x2="354.38" y2="651.85" stroke="#333" stroke-width="0.9"/>
<line x1="366.30" y1="434.05" x2="366.30" y2="428.05" stroke="#000" stroke-width="1.2"/>
<line x1="366.30" y1="648.85" x2="366.30" y2="654.85" stroke="#000" stroke-width="1.2"/>
<line x1="378.22" y1="434.05" x2="378.22" y2="431.05" stroke="#333" stroke-width="0.9"/>
<line x1="378.22" y1="648.85" x2="378.22" y2="651.85" stroke="#333" stroke-width="0.9"/>
<line x1="390.14" y1="434.05" x2="390.14" y2="431.05" stroke="#333" stroke-width="0.9"/>
<line x1="390.14" y1="648.85" x2="390.14" y2="651.85" stroke="#333" stroke-width="0.9"/>
<line x1="402.07" y1="434.05" x2="402.07" y2="428.05" stroke="#000" stroke-width="1.2"/>
<line x1="402.07" y1="648.85" x2="402.07" y2="654.85" stroke="#000" stroke-width="1.2"/>
<line x1="413.99" y1="434.05" x2="413.99" y2="431.05" stroke="#333" stroke-width="0.9"/>
<line x1="413.99" y1="648.85" x2="413.99" y2="651.85" stroke="#333" stroke-width="0.9"/>
<line x1="425.91" y1="434.05" x2="425.91" y2="431.05" stroke="#333" stroke-width="0.9"/>
<line x1="425.91" y1="648.85" x2="425.91" y2="651.85" stroke="#333" stroke-width="0.9"/>
<line x1="437.83" y1="434.05" x2="437.83" y2="428.05" stroke="#000" stroke-width="1.2"/>
<line x1="437.83" y1="648.85" x2="437.83" y2="654.85" stroke="#000" stroke-width="1.2"/>
<line x1="449.76" y1="434.05" x2="449.76" y2="431.05" stroke="#333" stroke-width="0.9"/>
<line x1="449.76" y1="648.85" x2="449.76" y2="651.85" stroke="#333" stroke-width="0.9"/>
<line x1="461.68" y1="434.05" x2="461.68" y2="431.05" stroke="#333" stroke-width="0.9"/>
<line x1="461.68" y1="648.85" x2="461.68" y2="651.85" stroke="#333" stroke-width="0.9"/>
<line x1="473.60" y1="434.05" x2="473.60" y2="428.05" stroke="#000" stroke-width="1.2"/>
<line x1="473.60" y1="648.85" x2="473.60" y2="654.85" stroke="#000" stroke-width="1.2"/>
<line x1="259.00" y1="434.05" x2="252.50" y2="434.05" stroke="#1a1a1a" stroke-width="1.05"/>
<text x="248.4" y="437.2" font-size="9.4" text-anchor="end" fill="#0a0a0a" stroke="#fff" stroke-width="0.11" textLength="15.8" lengthAdjust="spacingAndGlyphs">100</text>
<line x1="259.00" y1="473.06" x2="252.50" y2="473.06" stroke="#1a1a1a" stroke-width="1.05"/>
<text x="248.4" y="476.3" font-size="9.4" text-anchor="end" fill="#0a0a0a" stroke="#fff" stroke-width="0.11" textLength="15.8" lengthAdjust="spacingAndGlyphs">150</text>
<line x1="259.00" y1="500.73" x2="252.50" y2="500.73" stroke="#1a1a1a" stroke-width="1.05"/>
<text x="248.4" y="503.9" font-size="9.4" text-anchor="end" fill="#0a0a0a" stroke="#fff" stroke-width="0.11" textLength="15.8" lengthAdjust="spacingAndGlyphs">200</text>
<line x1="259.00" y1="522.20" x2="252.50" y2="522.20" stroke="#1a1a1a" stroke-width="1.05"/>
<text x="248.4" y="525.4" font-size="9.4" text-anchor="end" fill="#0a0a0a" stroke="#fff" stroke-width="0.11" textLength="15.8" lengthAdjust="spacingAndGlyphs">250</text>
<line x1="259.00" y1="539.74" x2="252.50" y2="539.74" stroke="#1a1a1a" stroke-width="1.05"/>
<text x="248.4" y="542.9" font-size="9.4" text-anchor="end" fill="#0a0a0a" stroke="#fff" stroke-width="0.11" textLength="15.8" lengthAdjust="spacingAndGlyphs">300</text>
<line x1="259.00" y1="567.41" x2="252.50" y2="567.41" stroke="#1a1a1a" stroke-width="1.05"/>
<text x="248.4" y="570.6" font-size="9.4" text-anchor="end" fill="#0a0a0a" stroke="#fff" stroke-width="0.11" textLength="15.8" lengthAdjust="spacingAndGlyphs">400</text>
<line x1="259.00" y1="588.88" x2="252.50" y2="588.88" stroke="#1a1a1a" stroke-width="1.05"/>
<text x="248.4" y="592.1" font-size="9.4" text-anchor="end" fill="#0a0a0a" stroke="#fff" stroke-width="0.11" textLength="15.8" lengthAdjust="spacingAndGlyphs">500</text>
<line x1="259.00" y1="621.25" x2="252.50" y2="621.25" stroke="#1a1a1a" stroke-width="1.05"/>
<text x="248.4" y="624.4" font-size="9.4" text-anchor="end" fill="#0a0a0a" stroke="#fff" stroke-width="0.11" textLength="15.8" lengthAdjust="spacingAndGlyphs">700</text>
<line x1="259.00" y1="639.92" x2="252.50" y2="639.92" stroke="#1a1a1a" stroke-width="1.05"/>
<text x="248.4" y="643.1" font-size="9.4" text-anchor="end" fill="#0a0a0a" stroke="#fff" stroke-width="0.11" textLength="15.8" lengthAdjust="spacingAndGlyphs">850</text>
<line x1="473.60" y1="436.95" x2="480.10" y2="436.95" stroke="#1a1a1a" stroke-width="1.05"/>
<text x="483.6" y="440.2" font-size="9.4" text-anchor="start" fill="#0a0a0a" stroke="#fff" stroke-width="0.11">16</text>
<line x1="473.60" y1="498.25" x2="480.10" y2="498.25" stroke="#1a1a1a" stroke-width="1.05"/>
<text x="483.6" y="501.6" font-size="9.4" text-anchor="start" fill="#0a0a0a" stroke="#fff" stroke-width="0.11">12</text>
<line x1="473.60" y1="556.55" x2="480.10" y2="556.55" stroke="#1a1a1a" stroke-width="1.05"/>
<text x="483.6" y="559.8" font-size="9.4" text-anchor="start" fill="#0a0a0a" stroke="#fff" stroke-width="0.11">8</text>
<line x1="473.60" y1="609.65" x2="480.10" y2="609.65" stroke="#1a1a1a" stroke-width="1.05"/>
<text x="483.6" y="612.9" font-size="9.4" text-anchor="start" fill="#0a0a0a" stroke="#fff" stroke-width="0.11">4</text>
<text x="259.0" y="666.9" font-size="9.4" text-anchor="middle" fill="#0a0a0a" stroke="#fff" stroke-width="0.11" textLength="16.6" lengthAdjust="spacingAndGlyphs">90N</text>
<text x="294.8" y="666.9" font-size="9.4" text-anchor="middle" fill="#0a0a0a" stroke="#fff" stroke-width="0.11" textLength="16.6" lengthAdjust="spacingAndGlyphs">60N</text>
<text x="330.5" y="666.9" font-size="9.4" text-anchor="middle" fill="#0a0a0a" stroke="#fff" stroke-width="0.11" textLength="16.6" lengthAdjust="spacingAndGlyphs">30N</text>
<text x="366.3" y="666.9" font-size="9.4" text-anchor="middle" fill="#0a0a0a" stroke="#fff" stroke-width="0.11">0</text>
<text x="402.1" y="666.9" font-size="9.4" text-anchor="middle" fill="#0a0a0a" stroke="#fff" stroke-width="0.11" textLength="16.6" lengthAdjust="spacingAndGlyphs">30S</text>
<text x="437.8" y="666.9" font-size="9.4" text-anchor="middle" fill="#0a0a0a" stroke="#fff" stroke-width="0.11" textLength="16.6" lengthAdjust="spacingAndGlyphs">60S</text>
<text x="473.6" y="666.9" font-size="9.4" text-anchor="middle" fill="#0a0a0a" stroke="#fff" stroke-width="0.11" textLength="16.6" lengthAdjust="spacingAndGlyphs">90S</text>
<text x="258.1" y="424.4" font-size="11.4" text-anchor="start" fill="#0a0a0a" stroke="#fff" stroke-width="0.20" textLength="25.3" lengthAdjust="spacingAndGlyphs">Avg.</text>
<text x="290.1" y="424.4" font-size="11.4" text-anchor="start" fill="#0a0a0a" stroke="#fff" stroke-width="0.20" textLength="25.7" lengthAdjust="spacingAndGlyphs">Rain</text>
<text x="322.5" y="424.4" font-size="11.4" text-anchor="start" fill="#0a0a0a" stroke="#fff" stroke-width="0.20" textLength="36.8" lengthAdjust="spacingAndGlyphs">Mixing</text>
<text x="366.2" y="424.4" font-size="11.4" text-anchor="start" fill="#0a0a0a" stroke="#fff" stroke-width="0.20" textLength="30.2" lengthAdjust="spacingAndGlyphs">Ratio</text>
<text x="432.0" y="424.4" font-size="11.4" text-anchor="start" fill="#0a0a0a" stroke="#fff" stroke-width="0.20" textLength="43.8" lengthAdjust="spacingAndGlyphs">mg/kg</text>
<text transform="translate(223.2,590.6) rotate(-90)" font-size="13.8" fill="#0a0a0a" stroke="#fff" stroke-width="0.31" textLength="59.6" lengthAdjust="spacingAndGlyphs">Pressure</text>
<text transform="translate(223.2,524.9) rotate(-90)" font-size="13.8" fill="#0a0a0a" stroke="#fff" stroke-width="0.31" textLength="32.0" lengthAdjust="spacingAndGlyphs">(mb)</text>
<text transform="translate(510.9,582.9) rotate(-90)" font-size="13.8" fill="#484848" stroke="#fff" stroke-width="0.31" textLength="42.6" lengthAdjust="spacingAndGlyphs">Height</text>
<text transform="translate(510.9,533.5) rotate(-90)" font-size="13.8" fill="#0a0a0a" stroke="#fff" stroke-width="0.31" textLength="32.2" lengthAdjust="spacingAndGlyphs">(km)</text>
<text x="125.1" y="335.0" font-size="10.8" text-anchor="start" fill="#0a0a0a" stroke="#fff" stroke-width="0.17" textLength="19.1" lengthAdjust="spacingAndGlyphs">MIN</text>
<text x="149.0" y="335.0" font-size="10.8" text-anchor="start" fill="#0a0a0a" stroke="#fff" stroke-width="0.17" textLength="8.9" lengthAdjust="spacingAndGlyphs">=</text>
<text x="174.2" y="335.0" font-size="10.8" text-anchor="start" fill="#0a0a0a" stroke="#fff" stroke-width="0.17" textLength="24.7" lengthAdjust="spacingAndGlyphs">0.00</text>
<text x="209.2" y="335.0" font-size="10.8" text-anchor="start" fill="#0a0a0a" stroke="#fff" stroke-width="0.17" textLength="20.7" lengthAdjust="spacingAndGlyphs">MAX</text>
<text x="234.8" y="335.0" font-size="10.8" text-anchor="start" fill="#0a0a0a" stroke="#fff" stroke-width="0.17" textLength="8.9" lengthAdjust="spacingAndGlyphs">=</text>
<text x="255.1" y="335.0" font-size="10.8" text-anchor="start" fill="#0a0a0a" stroke="#fff" stroke-width="0.17" textLength="31.2" lengthAdjust="spacingAndGlyphs">46.73</text>
<text x="446.1" y="335.0" font-size="10.8" text-anchor="start" fill="#0a0a0a" stroke="#fff" stroke-width="0.17" textLength="19.1" lengthAdjust="spacingAndGlyphs">MIN</text>
<text x="470.0" y="335.0" font-size="10.8" text-anchor="start" fill="#0a0a0a" stroke="#fff" stroke-width="0.17" textLength="8.9" lengthAdjust="spacingAndGlyphs">=</text>
<text x="495.2" y="335.0" font-size="10.8" text-anchor="start" fill="#0a0a0a" stroke="#fff" stroke-width="0.17" textLength="24.7" lengthAdjust="spacingAndGlyphs">0.00</text>
<text x="530.2" y="335.0" font-size="10.8" text-anchor="start" fill="#0a0a0a" stroke="#fff" stroke-width="0.17" textLength="20.7" lengthAdjust="spacingAndGlyphs">MAX</text>
<text x="555.8" y="335.0" font-size="10.8" text-anchor="start" fill="#0a0a0a" stroke="#fff" stroke-width="0.17" textLength="8.9" lengthAdjust="spacingAndGlyphs">=</text>
<text x="576.1" y="335.0" font-size="10.8" text-anchor="start" fill="#0a0a0a" stroke="#fff" stroke-width="0.17" textLength="31.2" lengthAdjust="spacingAndGlyphs">46.08</text>
<text x="500.1" y="456.2" font-size="11.0" text-anchor="start" fill="#0a0a0a" stroke="#fff" stroke-width="0.18" textLength="18.9" lengthAdjust="spacingAndGlyphs">MIN</text>
<text x="524.7" y="456.2" font-size="11.0" text-anchor="start" fill="#0a0a0a" stroke="#fff" stroke-width="0.18" textLength="8.5" lengthAdjust="spacingAndGlyphs">=</text>
<text x="538.9" y="456.2" font-size="11.0" text-anchor="start" fill="#0a0a0a" stroke="#fff" stroke-width="0.18" textLength="9.5" lengthAdjust="spacingAndGlyphs">−</text>
<text x="548.2" y="456.2" font-size="11.0" text-anchor="start" fill="#0a0a0a" stroke="#fff" stroke-width="0.18" textLength="30.6" lengthAdjust="spacingAndGlyphs">10.63</text>
<text x="588.8" y="456.2" font-size="11.0" text-anchor="start" fill="#0a0a0a" stroke="#fff" stroke-width="0.18" textLength="21.6" lengthAdjust="spacingAndGlyphs">MAX</text>
<text x="616.1" y="456.2" font-size="11.0" text-anchor="start" fill="#0a0a0a" stroke="#fff" stroke-width="0.18" textLength="8.5" lengthAdjust="spacingAndGlyphs">=</text>
<text x="636.5" y="456.2" font-size="11.0" text-anchor="start" fill="#0a0a0a" stroke="#fff" stroke-width="0.18" textLength="30.4" lengthAdjust="spacingAndGlyphs">10.08</text>
<rect x="101.30" y="344.5" width="13.03" height="19.6" fill="#000080" stroke="#1c1c1c" stroke-width="0.8"/>
<rect x="114.33" y="344.5" width="13.03" height="19.6" fill="#0017AE" stroke="#1c1c1c" stroke-width="0.8"/>
<rect x="127.36" y="344.5" width="13.03" height="19.6" fill="#002BDC" stroke="#1c1c1c" stroke-width="0.8"/>
<rect x="140.39" y="344.5" width="13.03" height="19.6" fill="#1C4CFF" stroke="#1c1c1c" stroke-width="0.8"/>
<rect x="153.42" y="344.5" width="13.03" height="19.6" fill="#3F75FF" stroke="#1c1c1c" stroke-width="0.8"/>
<rect x="166.45" y="344.5" width="13.03" height="19.6" fill="#7DA5FF" stroke="#1c1c1c" stroke-width="0.8"/>
<rect x="179.48" y="344.5" width="13.03" height="19.6" fill="#B1CBFF" stroke="#1c1c1c" stroke-width="0.8"/>
<rect x="192.51" y="344.5" width="13.03" height="19.6" fill="#D5E8FF" stroke="#1c1c1c" stroke-width="0.8"/>
<rect x="205.54" y="344.5" width="13.03" height="19.6" fill="#FFE8D5" stroke="#1c1c1c" stroke-width="0.8"/>
<rect x="218.57" y="344.5" width="13.03" height="19.6" fill="#FFCBB1" stroke="#1c1c1c" stroke-width="0.8"/>
<rect x="231.60" y="344.5" width="13.03" height="19.6" fill="#FFA57D" stroke="#1c1c1c" stroke-width="0.8"/>
<rect x="244.63" y="344.5" width="13.03" height="19.6" fill="#FF753F" stroke="#1c1c1c" stroke-width="0.8"/>
<rect x="257.66" y="344.5" width="13.03" height="19.6" fill="#FF4F1B" stroke="#1c1c1c" stroke-width="0.8"/>
<rect x="270.69" y="344.5" width="13.03" height="19.6" fill="#E22F00" stroke="#1c1c1c" stroke-width="0.8"/>
<rect x="283.72" y="344.5" width="13.03" height="19.6" fill="#B62200" stroke="#1c1c1c" stroke-width="0.8"/>
<rect x="296.75" y="344.5" width="13.03" height="19.6" fill="#880000" stroke="#1c1c1c" stroke-width="0.8"/>
<text x="114.3" y="376.0" font-size="9.8" text-anchor="middle" fill="#0a0a0a" stroke="#fff" stroke-width="0.13">1</text>
<text x="140.4" y="376.0" font-size="9.8" text-anchor="middle" fill="#0a0a0a" stroke="#fff" stroke-width="0.13" textLength="11.8" lengthAdjust="spacingAndGlyphs">10</text>
<text x="166.4" y="376.0" font-size="9.8" text-anchor="middle" fill="#0a0a0a" stroke="#fff" stroke-width="0.13" textLength="11.8" lengthAdjust="spacingAndGlyphs">20</text>
<text x="192.5" y="376.0" font-size="9.8" text-anchor="middle" fill="#0a0a0a" stroke="#fff" stroke-width="0.13" textLength="11.8" lengthAdjust="spacingAndGlyphs">30</text>
<text x="218.6" y="376.0" font-size="9.8" text-anchor="middle" fill="#0a0a0a" stroke="#fff" stroke-width="0.13" textLength="11.8" lengthAdjust="spacingAndGlyphs">40</text>
<text x="244.6" y="376.0" font-size="9.8" text-anchor="middle" fill="#0a0a0a" stroke="#fff" stroke-width="0.13" textLength="11.8" lengthAdjust="spacingAndGlyphs">50</text>
<text x="270.7" y="376.0" font-size="9.8" text-anchor="middle" fill="#0a0a0a" stroke="#fff" stroke-width="0.13" textLength="11.8" lengthAdjust="spacingAndGlyphs">60</text>
<text x="296.8" y="376.0" font-size="9.8" text-anchor="middle" fill="#0a0a0a" stroke="#fff" stroke-width="0.13" textLength="11.8" lengthAdjust="spacingAndGlyphs">70</text>
<rect x="422.30" y="344.5" width="13.03" height="19.6" fill="#000080" stroke="#1c1c1c" stroke-width="0.8"/>
<rect x="435.33" y="344.5" width="13.03" height="19.6" fill="#0017AE" stroke="#1c1c1c" stroke-width="0.8"/>
<rect x="448.36" y="344.5" width="13.03" height="19.6" fill="#002BDC" stroke="#1c1c1c" stroke-width="0.8"/>
<rect x="461.39" y="344.5" width="13.03" height="19.6" fill="#1C4CFF" stroke="#1c1c1c" stroke-width="0.8"/>
<rect x="474.42" y="344.5" width="13.03" height="19.6" fill="#3F75FF" stroke="#1c1c1c" stroke-width="0.8"/>
<rect x="487.45" y="344.5" width="13.03" height="19.6" fill="#7DA5FF" stroke="#1c1c1c" stroke-width="0.8"/>
<rect x="500.48" y="344.5" width="13.03" height="19.6" fill="#B1CBFF" stroke="#1c1c1c" stroke-width="0.8"/>
<rect x="513.51" y="344.5" width="13.03" height="19.6" fill="#D5E8FF" stroke="#1c1c1c" stroke-width="0.8"/>
<rect x="526.54" y="344.5" width="13.03" height="19.6" fill="#FFE8D5" stroke="#1c1c1c" stroke-width="0.8"/>
<rect x="539.57" y="344.5" width="13.03" height="19.6" fill="#FFCBB1" stroke="#1c1c1c" stroke-width="0.8"/>
<rect x="552.60" y="344.5" width="13.03" height="19.6" fill="#FFA57D" stroke="#1c1c1c" stroke-width="0.8"/>
<rect x="565.63" y="344.5" width="13.03" height="19.6" fill="#FF753F" stroke="#1c1c1c" stroke-width="0.8"/>
<rect x="578.66" y="344.5" width="13.03" height="19.6" fill="#FF4F1B" stroke="#1c1c1c" stroke-width="0.8"/>
<rect x="591.69" y="344.5" width="13.03" height="19.6" fill="#E22F00" stroke="#1c1c1c" stroke-width="0.8"/>
<rect x="604.72" y="344.5" width="13.03" height="19.6" fill="#B62200" stroke="#1c1c1c" stroke-width="0.8"/>
<rect x="617.75" y="344.5" width="13.03" height="19.6" fill="#880000" stroke="#1c1c1c" stroke-width="0.8"/>
<text x="435.3" y="376.0" font-size="9.8" text-anchor="middle" fill="#0a0a0a" stroke="#fff" stroke-width="0.13">1</text>
<text x="461.4" y="376.0" font-size="9.8" text-anchor="middle" fill="#0a0a0a" stroke="#fff" stroke-width="0.13" textLength="11.8" lengthAdjust="spacingAndGlyphs">10</text>
<text x="487.4" y="376.0" font-size="9.8" text-anchor="middle" fill="#0a0a0a" stroke="#fff" stroke-width="0.13" textLength="11.8" lengthAdjust="spacingAndGlyphs">20</text>
<text x="513.5" y="376.0" font-size="9.8" text-anchor="middle" fill="#0a0a0a" stroke="#fff" stroke-width="0.13" textLength="11.8" lengthAdjust="spacingAndGlyphs">30</text>
<text x="539.6" y="376.0" font-size="9.8" text-anchor="middle" fill="#0a0a0a" stroke="#fff" stroke-width="0.13" textLength="11.8" lengthAdjust="spacingAndGlyphs">40</text>
<text x="565.6" y="376.0" font-size="9.8" text-anchor="middle" fill="#0a0a0a" stroke="#fff" stroke-width="0.13" textLength="11.8" lengthAdjust="spacingAndGlyphs">50</text>
<text x="591.7" y="376.0" font-size="9.8" text-anchor="middle" fill="#0a0a0a" stroke="#fff" stroke-width="0.13" textLength="11.8" lengthAdjust="spacingAndGlyphs">60</text>
<text x="617.8" y="376.0" font-size="9.8" text-anchor="middle" fill="#0a0a0a" stroke="#fff" stroke-width="0.13" textLength="11.8" lengthAdjust="spacingAndGlyphs">70</text>
<rect x="560.5" y="635.85" width="30.4" height="10.79" fill="#000080" stroke="#1c1c1c" stroke-width="0.8"/>
<rect x="560.5" y="625.06" width="30.4" height="10.79" fill="#0017AE" stroke="#1c1c1c" stroke-width="0.8"/>
<rect x="560.5" y="614.27" width="30.4" height="10.79" fill="#002BDC" stroke="#1c1c1c" stroke-width="0.8"/>
<rect x="560.5" y="603.48" width="30.4" height="10.79" fill="#1C4CFF" stroke="#1c1c1c" stroke-width="0.8"/>
<rect x="560.5" y="592.69" width="30.4" height="10.79" fill="#3F75FF" stroke="#1c1c1c" stroke-width="0.8"/>
<rect x="560.5" y="581.90" width="30.4" height="10.79" fill="#7DA5FF" stroke="#1c1c1c" stroke-width="0.8"/>
<rect x="560.5" y="571.11" width="30.4" height="10.79" fill="#B1CBFF" stroke="#1c1c1c" stroke-width="0.8"/>
<rect x="560.5" y="560.32" width="30.4" height="10.79" fill="#D5E8FF" stroke="#1c1c1c" stroke-width="0.8"/>
<rect x="560.5" y="549.53" width="30.4" height="10.79" fill="#FFE8D5" stroke="#1c1c1c" stroke-width="0.8"/>
<rect x="560.5" y="538.74" width="30.4" height="10.79" fill="#FFCBB1" stroke="#1c1c1c" stroke-width="0.8"/>
<rect x="560.5" y="527.95" width="30.4" height="10.79" fill="#FFA57D" stroke="#1c1c1c" stroke-width="0.8"/>
<rect x="560.5" y="517.16" width="30.4" height="10.79" fill="#FF753F" stroke="#1c1c1c" stroke-width="0.8"/>
<rect x="560.5" y="506.37" width="30.4" height="10.79" fill="#FF4F1B" stroke="#1c1c1c" stroke-width="0.8"/>
<rect x="560.5" y="495.58" width="30.4" height="10.79" fill="#E22F00" stroke="#1c1c1c" stroke-width="0.8"/>
<rect x="560.5" y="484.79" width="30.4" height="10.79" fill="#B62200" stroke="#1c1c1c" stroke-width="0.8"/>
<rect x="560.5" y="474.00" width="30.4" height="10.79" fill="#880000" stroke="#1c1c1c" stroke-width="0.8"/>
<text x="594.4" y="639.2" font-size="9.6" text-anchor="start" fill="#0a0a0a" stroke="#fff" stroke-width="0.12" textLength="7.0" lengthAdjust="spacingAndGlyphs">−</text>
<text x="601.4" y="639.2" font-size="9.6" text-anchor="start" fill="#0a0a0a" stroke="#fff" stroke-width="0.12">7</text>
<text x="594.4" y="628.5" font-size="9.6" text-anchor="start" fill="#0a0a0a" stroke="#fff" stroke-width="0.12" textLength="7.0" lengthAdjust="spacingAndGlyphs">−</text>
<text x="601.4" y="628.5" font-size="9.6" text-anchor="start" fill="#0a0a0a" stroke="#fff" stroke-width="0.12">6</text>
<text x="594.4" y="617.7" font-size="9.6" text-anchor="start" fill="#0a0a0a" stroke="#fff" stroke-width="0.12" textLength="7.0" lengthAdjust="spacingAndGlyphs">−</text>
<text x="601.4" y="617.7" font-size="9.6" text-anchor="start" fill="#0a0a0a" stroke="#fff" stroke-width="0.12">5</text>
<text x="594.4" y="606.9" font-size="9.6" text-anchor="start" fill="#0a0a0a" stroke="#fff" stroke-width="0.12" textLength="7.0" lengthAdjust="spacingAndGlyphs">−</text>
<text x="601.4" y="606.9" font-size="9.6" text-anchor="start" fill="#0a0a0a" stroke="#fff" stroke-width="0.12">4</text>
<text x="594.4" y="596.1" font-size="9.6" text-anchor="start" fill="#0a0a0a" stroke="#fff" stroke-width="0.12" textLength="7.0" lengthAdjust="spacingAndGlyphs">−</text>
<text x="601.4" y="596.1" font-size="9.6" text-anchor="start" fill="#0a0a0a" stroke="#fff" stroke-width="0.12">3</text>
<text x="594.4" y="585.3" font-size="9.6" text-anchor="start" fill="#0a0a0a" stroke="#fff" stroke-width="0.12" textLength="7.0" lengthAdjust="spacingAndGlyphs">−</text>
<text x="601.4" y="585.3" font-size="9.6" text-anchor="start" fill="#0a0a0a" stroke="#fff" stroke-width="0.12">2</text>
<text x="594.4" y="574.5" font-size="9.6" text-anchor="start" fill="#0a0a0a" stroke="#fff" stroke-width="0.12" textLength="7.0" lengthAdjust="spacingAndGlyphs">−</text>
<text x="601.4" y="574.5" font-size="9.6" text-anchor="start" fill="#0a0a0a" stroke="#fff" stroke-width="0.12">1</text>
<text x="597.9" y="563.7" font-size="9.6" text-anchor="start" fill="#0a0a0a" stroke="#fff" stroke-width="0.12">0</text>
<text x="597.9" y="552.9" font-size="9.6" text-anchor="start" fill="#0a0a0a" stroke="#fff" stroke-width="0.12">1</text>
<text x="597.9" y="542.1" font-size="9.6" text-anchor="start" fill="#0a0a0a" stroke="#fff" stroke-width="0.12">2</text>
<text x="597.9" y="531.4" font-size="9.6" text-anchor="start" fill="#0a0a0a" stroke="#fff" stroke-width="0.12">3</text>
<text x="597.9" y="520.6" font-size="9.6" text-anchor="start" fill="#0a0a0a" stroke="#fff" stroke-width="0.12">4</text>
<text x="597.9" y="509.8" font-size="9.6" text-anchor="start" fill="#0a0a0a" stroke="#fff" stroke-width="0.12">5</text>
<text x="597.9" y="499.0" font-size="9.6" text-anchor="start" fill="#0a0a0a" stroke="#fff" stroke-width="0.12">6</text>
<text x="597.9" y="488.2" font-size="9.6" text-anchor="start" fill="#0a0a0a" stroke="#fff" stroke-width="0.12">7</text>
</svg>
</body></html>
